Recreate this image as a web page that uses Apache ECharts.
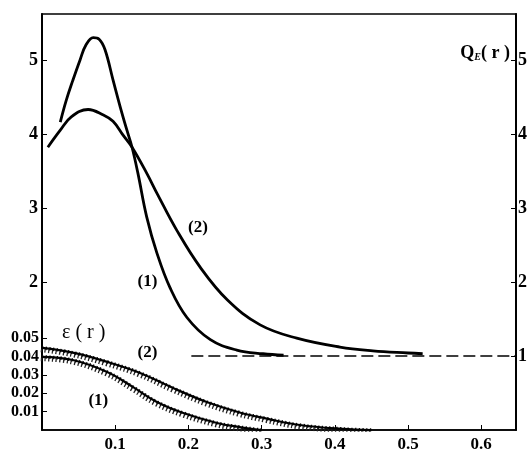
<!DOCTYPE html>
<html>
<head>
<meta charset="utf-8">
<script src="https://cdn.jsdelivr.net/npm/echarts@6/dist/echarts.min.js"></script>
<style>
  html, body { margin: 0; padding: 0; background: #fff; }
  #chart { width: 531px; height: 457px; }
</style>
</head>
<body>
<div id="chart"></div>
<script>
// Q_E(r) curves
const q1X = [0.025, 0.033, 0.042, 0.052, 0.06, 0.07, 0.078, 0.086, 0.097, 0.107, 0.116, 0.123, 0.131, 0.143, 0.157, 0.175, 0.198, 0.23, 0.266, 0.302, 0.33];
const q1Y = [4.16, 4.45, 4.72, 5.0, 5.2, 5.30, 5.28, 5.14, 4.73, 4.36, 4.05, 3.82, 3.47, 2.88, 2.39, 1.92, 1.52, 1.22, 1.08, 1.03, 1.01];
const q2X = [0.008, 0.025, 0.04, 0.063, 0.083, 0.097, 0.111, 0.123, 0.143, 0.158, 0.184, 0.216, 0.253, 0.298, 0.348, 0.407, 0.452, 0.5, 0.52];
const q2Y = [3.82, 4.05, 4.23, 4.33, 4.26, 4.17, 3.98, 3.82, 3.47, 3.18, 2.70, 2.20, 1.76, 1.42, 1.24, 1.12, 1.07, 1.04, 1.03];
// asymptote Q = 1
const refX = [0.204, 0.6475];
const refY = [1, 1];
// eps(r) curves
const e1X = [0.0, 0.042, 0.089, 0.124, 0.157, 0.193, 0.239, 0.27, 0.30];
const e1Y = [0.0397, 0.038, 0.0315, 0.0234, 0.0152, 0.0092, 0.0038, 0.0016, 0.0];
const e2X = [0.0, 0.042, 0.089, 0.134, 0.179, 0.225, 0.27, 0.307, 0.352, 0.41, 0.45];
const e2Y = [0.0446, 0.042, 0.037, 0.031, 0.0228, 0.0152, 0.0095, 0.0062, 0.0027, 0.0006, 0.0];
// ticks
const xTicks = [0.1, 0.2, 0.3, 0.4, 0.5, 0.6];
const qLeftTicks = [2, 3, 4, 5];
const qRightTicks = [1, 2, 3, 4, 5];
const epsTicks = [0.01, 0.02, 0.03, 0.04, 0.05];

const zip = (xs, ys) => xs.map((x, i) => [x, ys[i]]);
const serif = '"Liberation Serif", "DejaVu Serif", serif';

const chart = echarts.init(document.getElementById('chart'));

const curve = (data, yIdx, w) => ({
  type: 'line',
  yAxisIndex: yIdx,
  data: data,
  smooth: 0.4,
  symbol: 'none',
  lineStyle: { color: '#000', width: w },
  silent: true
});

// hatch under eps curves: dashed stroke + offset shadow
const hatch = (data) => ({
  type: 'line',
  yAxisIndex: 2,
  data: data,
  smooth: 0.4,
  symbol: 'none',
  lineStyle: {
    color: '#111', width: 3.5, type: [1.3, 2.4],
    shadowColor: '#222', shadowOffsetY: 2.5, shadowOffsetX: -1.2, shadowBlur: 0
  },
  silent: true
});

const option = {
  animation: false,
  grid: {
    left: 42, top: 14, width: 474, bottom: 27,
    show: true, borderColor: '#000', borderWidth: 1.5
  },
  xAxis: {
    type: 'value', min: 0, max: 0.6475,
    axisLine: { show: true, lineStyle: { color: '#000', width: 1.5 } },
    axisTick: { show: true, inside: true, length: 5, customValues: xTicks, lineStyle: { color: '#000' } },
    axisLabel: {
      customValues: xTicks, color: '#000', fontFamily: serif, fontWeight: 'bold', fontSize: 17, margin: 6,
      formatter: v => v.toFixed(1)
    },
    splitLine: { show: false }
  },
  yAxis: [
    {
      type: 'value', min: 0, max: 5.62, position: 'left',
      axisLine: { show: true, lineStyle: { color: '#000', width: 2 } },
      axisTick: { show: true, inside: true, length: 5, customValues: qLeftTicks, lineStyle: { color: '#000' } },
      axisLabel: { customValues: qLeftTicks, color: '#000', fontFamily: serif, fontWeight: 'bold', fontSize: 18, margin: 4 },
      splitLine: { show: false }
    },
    {
      type: 'value', min: 0, max: 5.62, position: 'right',
      axisLine: { show: true, lineStyle: { color: '#000', width: 2 } },
      axisTick: { show: true, inside: true, length: 5, customValues: qRightTicks, lineStyle: { color: '#000' } },
      axisLabel: { customValues: qRightTicks, color: '#000', fontFamily: serif, fontWeight: 'bold', fontSize: 18, margin: 2 },
      splitLine: { show: false }
    },
    {
      type: 'value', min: 0, max: 0.226, position: 'left',
      axisLine: { show: false },
      axisTick: { show: true, inside: true, length: 5, customValues: epsTicks, lineStyle: { color: '#000' } },
      axisLabel: {
        customValues: epsTicks, color: '#000', fontFamily: serif, fontWeight: 'bold', fontSize: 16, margin: 3,
        formatter: v => v.toFixed(2)
      },
      splitLine: { show: false }
    }
  ],
  series: [
    curve(zip(q1X, q1Y), 0, 2.8),
    curve(zip(q2X, q2Y), 0, 2.8),
    {
      type: 'line', yAxisIndex: 0, data: zip(refX, refY), symbol: 'none', silent: true,
      lineStyle: { color: '#000', width: 1.6, type: [12, 5] }
    },
    hatch(zip(e1X, e1Y)),
    hatch(zip(e2X, e2Y)),
    curve(zip(e1X, e1Y), 2, 2.2),
    curve(zip(e2X, e2Y), 2, 2.2)
  ]
};

chart.setOption(option);

// text annotations placed in data coordinates
const at = (x, y, yIdx) => chart.convertToPixel({ xAxisIndex: 0, yAxisIndex: yIdx }, [x, y]);
const label = (txt, x, y, yIdx) => {
  const p = at(x, y, yIdx);
  return {
    type: 'text', x: p[0], y: p[1],
    style: { text: txt, fill: '#000', font: 'bold 17px ' + serif, align: 'center', verticalAlign: 'middle' }
  };
};

chart.setOption({
  graphic: [
    label('(1)', 0.144, 2.0, 0),
    label('(2)', 0.213, 2.74, 0),
    label('(2)', 0.144, 0.042, 2),
    label('(1)', 0.077, 0.016, 2),
    {
      type: 'text', x: 62, y: 333,
      style: { text: 'ε ( r )', fill: '#000', font: '20px ' + serif, align: 'left', verticalAlign: 'middle' }
    },
    {
      type: 'text', x: 510, y: 53,
      style: {
        text: '{b|Q}{s|E}{b|( r )}', align: 'right', verticalAlign: 'middle',
        rich: {
          b: { font: 'bold 18px ' + serif, fill: '#000' },
          s: { font: 'bold italic 10px ' + serif, fill: '#000', padding: [8, 0, 0, 0] }
        }
      }
    }
  ]
});
</script>
</body>
</html>
